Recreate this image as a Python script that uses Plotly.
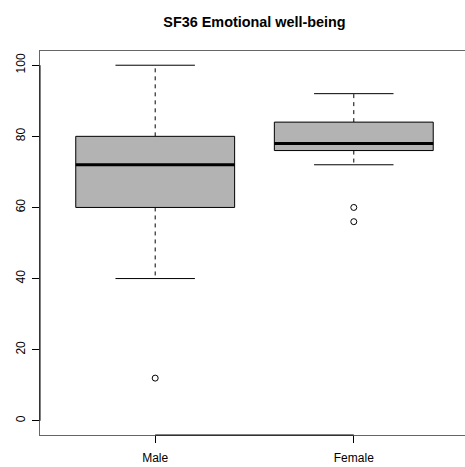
import plotly.graph_objects as go

categories = ["Male", "Female"]
positions = [1, 2]
q1 = [60, 76]
median = [72, 78]
q3 = [80, 84]
whisker_low = [40, 72]
whisker_high = [100, 92]
outliers = [[12], [60, 56]]
y_ticks = [0, 20, 40, 60, 80, 100]

half_box = 0.4
half_cap = 0.2

fig = go.Figure()
for i, pos in enumerate(positions):
    # whiskers (dashed)
    fig.add_trace(go.Scatter(x=[pos, pos, None, pos, pos],
                             y=[q3[i], whisker_high[i], None, q1[i], whisker_low[i]],
                             mode="lines", line=dict(color="black", width=1, dash="4px,4px"),
                             showlegend=False, hoverinfo="skip"))
    # caps
    fig.add_trace(go.Scatter(x=[pos - half_cap, pos + half_cap, None, pos - half_cap, pos + half_cap],
                             y=[whisker_high[i], whisker_high[i], None, whisker_low[i], whisker_low[i]],
                             mode="lines", line=dict(color="black", width=1),
                             showlegend=False, hoverinfo="skip"))
    # box
    fig.add_trace(go.Scatter(x=[pos - half_box, pos + half_box, pos + half_box, pos - half_box, pos - half_box],
                             y=[q1[i], q1[i], q3[i], q3[i], q1[i]],
                             mode="lines", fill="toself", fillcolor="#B3B3B3",
                             line=dict(color="black", width=1),
                             showlegend=False, hoverinfo="skip"))
    # median
    fig.add_trace(go.Scatter(x=[pos - half_box, pos + half_box], y=[median[i], median[i]],
                             mode="lines", line=dict(color="black", width=3),
                             showlegend=False, hoverinfo="skip"))
    # outliers
    fig.add_trace(go.Scatter(x=[pos] * len(outliers[i]), y=outliers[i], mode="markers",
                             marker=dict(symbol="circle-open", size=6, color="black",
                                         line=dict(width=1, color="black")),
                             showlegend=False, hoverinfo="skip"))

# axis segments (R style)
fig.add_shape(type="line", xref="x", yref="paper", x0=positions[0], x1=positions[-1], y0=0, y1=0,
              line=dict(color="black", width=1))
fig.add_shape(type="line", xref="paper", yref="y", x0=0, x1=0, y0=y_ticks[0], y1=y_ticks[-1],
              line=dict(color="black", width=1))

W, H = 465, 467
ml, mt, mb = 40, 51, 32
fig.update_layout(
    width=W, height=H,
    margin=dict(l=ml, r=0, t=mt, b=mb, pad=0),
    paper_bgcolor="white", plot_bgcolor="white",
    font=dict(family="Liberation Sans, Arial, sans-serif", size=12, color="black"),
    title=dict(text="<b>SF36 Emotional well-being</b>", font=dict(size=14.4, color="black"),
               x=(254.5 - ml) / (W - ml), xref="paper", xanchor="center",
               y=1 - 22 / H, yref="container", yanchor="middle"),
    xaxis=dict(range=[0.42, 0.42 + (W - ml) / 198.6], tickvals=positions, ticktext=categories,
               showgrid=False, zeroline=False, showline=True, linecolor="#666666", linewidth=1,
               mirror=True, ticks="outside", ticklen=7, tickcolor="black",
               ticklabelstandoff=5),
    yaxis=dict(range=[-4, 104], tickvals=y_ticks, showgrid=False, zeroline=False,
               showline=True, linecolor="#666666", linewidth=1, mirror=False,
               ticks="outside", ticklen=7, tickcolor="black", tickangle=-90,
               ticklabelstandoff=2),
)

fig.write_html("out.html")
